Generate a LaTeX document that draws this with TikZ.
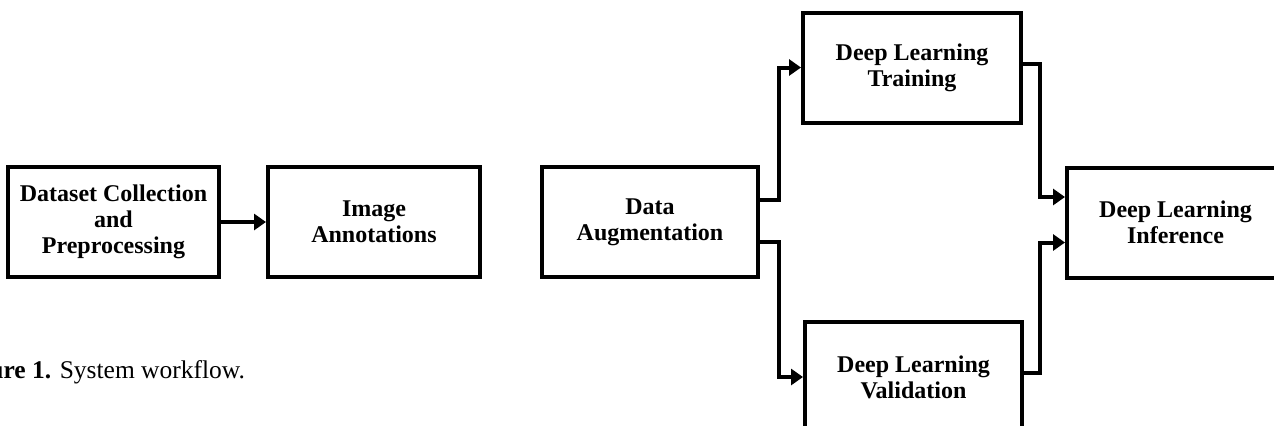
\documentclass[tikz,border=0pt]{standalone}
\usepackage{fontspec}
\setmainfont{Liberation Serif}
\usetikzlibrary{arrows.meta,calc}
\begin{document}
\begin{tikzpicture}[x=0.5pt,y=-0.5pt,
  stepbox/.style={draw=black,line width=2pt,minimum width=108pt,minimum height=55pt,
    inner sep=0pt,align=center,font=\fontsize{12}{13}\selectfont\bfseries},
  conn/.style={line width=2pt,-{Triangle[length=6pt,width=8pt]}}]
\useasboundingbox (0,0) rectangle (1274,425);
\clip (0,0) rectangle (1274,425);
\node[stepbox,minimum width=105.5pt] (b1) at (113.5,222) {Dataset Collection\\and\\Preprocessing};
\node[stepbox,minimum width=106pt] (b2) at (374,222) {Image\\Annotations};
\node[stepbox] (b3) at (650,222) {Data\\Augmentation};
\node[stepbox,minimum width=109pt] (b4) at (912,67.5) {Deep Learning\\Training};
\node[stepbox,minimum width=108.5pt] (b5) at (913.5,377) {Deep Learning\\Validation};
\node[stepbox,minimum width=108.5pt] (b6) at (1175.5,222.5) {Deep Learning\\Inference};
\node[anchor=base west,inner sep=0pt,font=\fontsize{12.75}{14}\selectfont] (cap) at (-11,378) {\textbf{ure 1.} System workflow.};
\draw[conn] (b1.east) -- (b2.west);
\draw[conn] ([yshift=11pt]b3.east) -- ++(9.5pt,0) |- (b4.west);
\draw[conn] ([yshift=-10pt]b3.east) -- ++(9.5pt,0) |- (b5.west);
\draw[conn] ([yshift=2pt]b4.east) -- ++(8.5pt,0) |- ([yshift=12.75pt]b6.west);
\draw[conn] ([yshift=2pt]b5.east) -- ++(8pt,0) |- ([yshift=-10pt]b6.west);
\end{tikzpicture}
\end{document}
